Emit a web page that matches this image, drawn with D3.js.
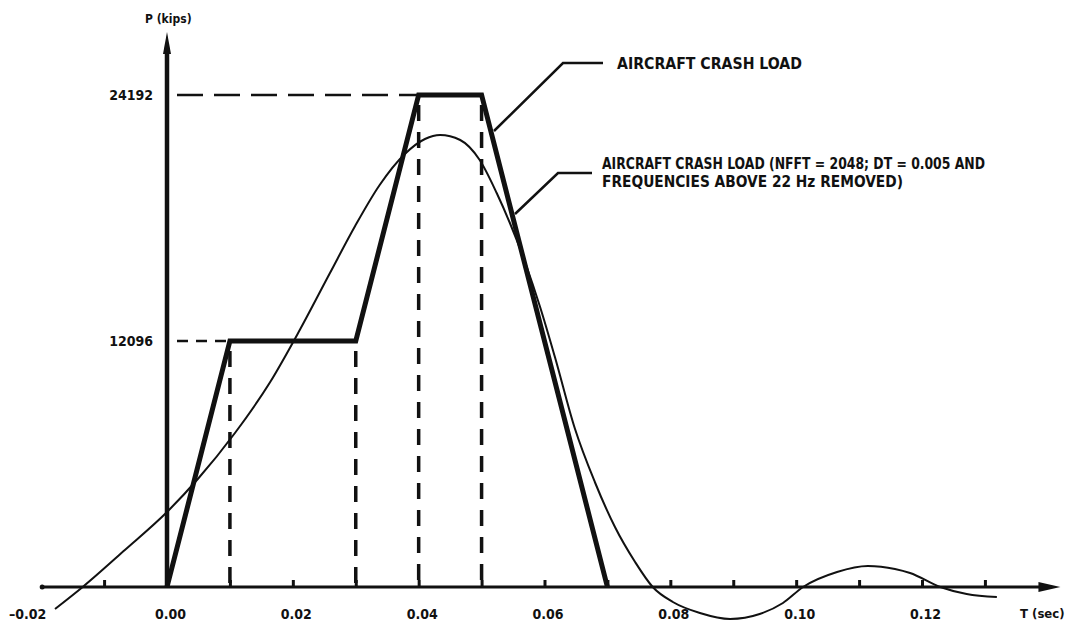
<!DOCTYPE html>
<html>
<head>
<meta charset="utf-8">
<script src="https://cdn.jsdelivr.net/npm/d3@7"></script>
<style>
  body { margin: 0; background: #fff; }
  text { font-family: "DejaVu Sans Condensed", "Liberation Sans Narrow", sans-serif; font-weight: bold; fill: #111; }
</style>
</head>
<body>
<script>
// aircraft crash load, piecewise linear (T in sec, P in kips)
var crashT = [0, 0.01, 0.03, 0.04, 0.05, 0.07];
var crashP = [0, 12096, 12096, 24192, 24192, 0];

// filtered load (NFFT = 2048, DT = 0.005, > 22 Hz removed)
var filtT = [-0.0178, -0.0134, -0.0067, 0.0, 0.0049, 0.0108, 0.0164, 0.0211, 0.0259,
             0.0299, 0.0338, 0.0378, 0.0410, 0.0434, 0.0466, 0.0497, 0.0524, 0.0545,
             0.0569, 0.0593, 0.0617, 0.0648, 0.0680, 0.0712, 0.0744, 0.0772, 0.0804,
             0.0847, 0.0895, 0.0942, 0.0979, 0.1011, 0.1065, 0.1114, 0.1157, 0.1181,
             0.1229, 0.1271, 0.1319];
var filtP = [-1082, 0, 1819, 3688, 5310, 7572, 10079, 12637, 15439,
             17750, 19766, 21291, 22028, 22225, 21979, 20996, 19373, 17898,
             15980, 13768, 11260, 7818, 5163, 2950, 1229, 0, -738,
             -1278, -1573, -1328, -787, 0, 738, 1033, 885, 688,
             0, -344, -492];

var tickT = [-0.01, 0, 0.01, 0.02, 0.03, 0.04, 0.05, 0.06, 0.07, 0.08, 0.09, 0.10, 0.11, 0.12, 0.13];
var labelT = [-0.02, 0, 0.02, 0.04, 0.06, 0.08, 0.10, 0.12];
var labelP = [12096, 24192];

var w = 1073, h = 636;

var svg = d3.select("body").append("svg")
  .attr("width", w).attr("height", h);

var x = d3.scaleLinear().domain([0, 0.12]).range([167, 922]);
var y = d3.scaleLinear().domain([0, 24192]).range([587, 95]);

// ---- dashed guide lines
var guides = svg.append("g").attr("stroke", "#111").attr("fill", "none");
// horizontal: from axis to start of each plateau
guides.append("line")
  .attr("x1", x(0) + 10).attr("x2", x(crashT[1]))
  .attr("y1", y(crashP[1])).attr("y2", y(crashP[1]))
  .attr("stroke-width", 2.5).attr("stroke-dasharray", "11,8");
guides.append("line")
  .attr("x1", x(0) + 10).attr("x2", x(crashT[3]))
  .attr("y1", y(crashP[3])).attr("y2", y(crashP[3]))
  .attr("stroke-width", 2.5).attr("stroke-dasharray", "26,11");
// verticals at the plateau corners
[1, 2, 3, 4].forEach(function(i) {
  guides.append("line")
    .attr("x1", x(crashT[i])).attr("x2", x(crashT[i]))
    .attr("y1", y(crashP[i]) + 10).attr("y2", y(0))
    .attr("stroke-width", 3.5).attr("stroke-dasharray", "16,11");
});

// ---- T axis
svg.append("line")
  .attr("x1", x(-0.02)).attr("x2", x(0.139))
  .attr("y1", y(0)).attr("y2", y(0))
  .attr("stroke", "#111").attr("stroke-width", 3);
svg.append("circle").attr("cx", x(-0.02) + 1).attr("cy", y(0)).attr("r", 2.5).attr("fill", "#111");
svg.append("path")
  .attr("d", "M" + (x(0.142)) + "," + y(0) + "l-22,-5l0,10z")
  .attr("fill", "#111");

var tAxis = d3.axisBottom(x).tickValues(tickT).tickSize(-6).tickFormat("");
svg.append("g").attr("transform", "translate(0," + (y(0) - 1) + ")")
  .call(tAxis)
  .call(function(g) {
    g.select(".domain").remove();
    g.selectAll(".tick line").attr("stroke", "#111").attr("stroke-width", 3);
  });

var tLabels = d3.axisBottom(x).tickValues(labelT).tickSize(0)
  .tickFormat(function(d) { return d < 0 ? "\u20130.02" : d3.format(".2f")(d); });
svg.append("g").attr("transform", "translate(0," + y(0) + ")")
  .call(tLabels)
  .call(function(g) {
    g.select(".domain").remove();
    g.selectAll(".tick text")
      .attr("font-size", 14).attr("y", 32).attr("dy", 0)
      .attr("dx", function(d) { return d < 0 ? -14 : 3; })
      .style("font-family", null);
  });
svg.append("text").attr("x", 1020).attr("y", 618).attr("font-size", 13).text("T (sec)");

// ---- P axis
svg.append("line")
  .attr("x1", x(0)).attr("x2", x(0))
  .attr("y1", y(0)).attr("y2", 50)
  .attr("stroke", "#111").attr("stroke-width", 4.5);
svg.append("path")
  .attr("d", "M" + x(0) + ",32l-4,22l8,0z")
  .attr("fill", "#111");

var pLabels = d3.axisLeft(y).tickValues(labelP).tickSize(0).tickFormat(d3.format("d"));
svg.append("g").attr("transform", "translate(" + (x(0) - 14) + ",0)")
  .call(pLabels)
  .call(function(g) {
    g.select(".domain").remove();
    g.selectAll(".tick text").attr("font-size", 14).attr("x", 0).style("font-family", null);
  });
svg.append("text").attr("x", 145).attr("y", 23).attr("font-size", 12).text("P (kips)");

// ---- filtered load
var smooth = d3.line()
  .x(function(d, i) { return x(filtT[i]); })
  .y(function(d, i) { return y(filtP[i]); })
  .curve(d3.curveMonotoneX);
svg.append("path")
  .attr("d", smooth(filtT))
  .attr("fill", "none").attr("stroke", "#111").attr("stroke-width", 2);

// ---- crash load
var crash = d3.line()
  .x(function(d, i) { return x(crashT[i]); })
  .y(function(d, i) { return y(crashP[i]); });
svg.append("path")
  .attr("d", crash(crashT))
  .attr("fill", "none").attr("stroke", "#111").attr("stroke-width", 5)
  .attr("stroke-linejoin", "miter");

// ---- annotations
var notes = svg.append("g").attr("fill", "none").attr("stroke", "#111").attr("stroke-width", 2.5);
notes.append("polyline").attr("points", "603,63 563,63 494,131");
notes.append("polyline").attr("points", "592,173 558,173 515,214");

svg.append("text").attr("x", 617).attr("y", 69).attr("font-size", 15)
  .attr("textLength", 185).attr("lengthAdjust", "spacingAndGlyphs")
  .text("AIRCRAFT CRASH LOAD");
svg.append("text").attr("x", 602).attr("y", 169).attr("font-size", 15)
  .attr("textLength", 383).attr("lengthAdjust", "spacingAndGlyphs")
  .text("AIRCRAFT CRASH LOAD (NFFT = 2048; DT = 0.005 AND");
svg.append("text").attr("x", 602).attr("y", 187).attr("font-size", 15)
  .attr("textLength", 301).attr("lengthAdjust", "spacingAndGlyphs")
  .text("FREQUENCIES ABOVE 22 Hz REMOVED)");
</script>
</body>
</html>
